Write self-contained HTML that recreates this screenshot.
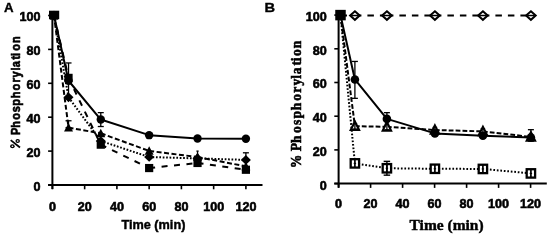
<!DOCTYPE html>
<html><head><meta charset="utf-8"><style>
html,body{margin:0;padding:0;background:#fff;}
body{width:550px;height:245px;overflow:hidden;}
svg{display:block;will-change:transform;}
text{font-weight:bold;stroke:#000;}
line{stroke:#000;}
.s1{font-family:"Liberation Serif",serif;font-size:14.8px;stroke-width:0.55;}
.s2{font-family:"Liberation Sans",sans-serif;font-size:12.2px;stroke-width:0.6;}
.s3{font-family:"Liberation Sans",sans-serif;font-size:12px;stroke-width:0.55;}
.m{text-anchor:middle;}.e{text-anchor:end;}
</style></head><body>
<svg width="550" height="245" viewBox="0 0 550 245">
<rect width="550" height="245" fill="#fff"/>
<line x1="52.4" y1="15" x2="52.4" y2="189.0" stroke-width="2"/><line x1="48.1" y1="185.0" x2="262.5" y2="185.0" stroke-width="2"/><line x1="48.1" y1="185.00" x2="52.4" y2="185.00" stroke-width="1.6"/><text transform="translate(40.6,190.90) scale(1.05,1)" class="s3 e">0</text><line x1="48.1" y1="151.10" x2="52.4" y2="151.10" stroke-width="1.6"/><text transform="translate(40.6,157.00) scale(1.05,1)" class="s3 e">20</text><line x1="48.1" y1="117.20" x2="52.4" y2="117.20" stroke-width="1.6"/><text transform="translate(40.6,123.10) scale(1.05,1)" class="s3 e">40</text><line x1="48.1" y1="83.30" x2="52.4" y2="83.30" stroke-width="1.6"/><text transform="translate(40.6,89.20) scale(1.05,1)" class="s3 e">60</text><line x1="48.1" y1="49.40" x2="52.4" y2="49.40" stroke-width="1.6"/><text transform="translate(40.6,55.30) scale(1.05,1)" class="s3 e">80</text><line x1="48.1" y1="15.50" x2="52.4" y2="15.50" stroke-width="1.6"/><text transform="translate(40.6,21.40) scale(1.05,1)" class="s3 e">100</text><line x1="52.40" y1="185.0" x2="52.40" y2="189.3" stroke-width="1.6"/><text transform="translate(52.40,210.6) scale(1.05,1)" class="s3 m">0</text><line x1="84.65" y1="185.0" x2="84.65" y2="189.3" stroke-width="1.6"/><text transform="translate(84.65,210.6) scale(1.05,1)" class="s3 m">20</text><line x1="116.90" y1="185.0" x2="116.90" y2="189.3" stroke-width="1.6"/><text transform="translate(116.90,210.6) scale(1.05,1)" class="s3 m">40</text><line x1="149.15" y1="185.0" x2="149.15" y2="189.3" stroke-width="1.6"/><text transform="translate(149.15,210.6) scale(1.05,1)" class="s3 m">60</text><line x1="181.40" y1="185.0" x2="181.40" y2="189.3" stroke-width="1.6"/><text transform="translate(181.40,210.6) scale(1.05,1)" class="s3 m">80</text><line x1="213.65" y1="185.0" x2="213.65" y2="189.3" stroke-width="1.6"/><text transform="translate(213.65,210.6) scale(1.05,1)" class="s3 m">100</text><line x1="245.90" y1="185.0" x2="245.90" y2="189.3" stroke-width="1.6"/><text transform="translate(245.90,210.6) scale(1.05,1)" class="s3 m">120</text><text x="3.9" y="12.3" font-family='"Liberation Sans", sans-serif' font-weight="bold" font-size="12.6" textLength="9.6" lengthAdjust="spacingAndGlyphs" stroke="#000" stroke-width="0.35">A</text><text transform="translate(19.8,131.20) rotate(-90) scale(0.9,1)" x="-4.27" y="0" class="s2">P</text><text transform="translate(19.8,124.45) rotate(-90) scale(0.9,1)" x="-3.77" y="0" class="s2">h</text><text transform="translate(19.8,116.50) rotate(-90) scale(0.9,1)" x="-3.73" y="0" class="s2">o</text><text transform="translate(19.8,109.30) rotate(-90) scale(0.9,1)" x="-3.36" y="0" class="s2">s</text><text transform="translate(19.8,102.15) rotate(-90) scale(0.9,1)" x="-3.88" y="0" class="s2">p</text><text transform="translate(19.8,94.80) rotate(-90) scale(0.9,1)" x="-3.77" y="0" class="s2">h</text><text transform="translate(19.8,87.05) rotate(-90) scale(0.9,1)" x="-3.73" y="0" class="s2">o</text><text transform="translate(19.8,80.00) rotate(-90) scale(0.9,1)" x="-2.68" y="0" class="s2">r</text><text transform="translate(19.8,74.50) rotate(-90) scale(0.9,1)" x="-3.41" y="0" class="s2">y</text><text transform="translate(19.8,69.00) rotate(-90) scale(0.9,1)" x="-1.69" y="0" class="s2">l</text><text transform="translate(19.8,64.00) rotate(-90) scale(0.9,1)" x="-3.61" y="0" class="s2">a</text><text transform="translate(19.8,57.80) rotate(-90) scale(0.9,1)" x="-2.03" y="0" class="s2">t</text><text transform="translate(19.8,54.60) rotate(-90) scale(0.9,1)" x="-1.69" y="0" class="s2">i</text><text transform="translate(19.8,47.45) rotate(-90) scale(0.9,1)" x="-3.73" y="0" class="s2">o</text><text transform="translate(19.8,39.75) rotate(-90) scale(0.9,1)" x="-3.75" y="0" class="s2">n</text><ellipse cx="17.7" cy="140.9" rx="2.25" ry="2.0"/><ellipse cx="17.7" cy="140.9" rx="0.9" ry="0.75" fill="#fff"/><ellipse cx="12.4" cy="146.3" rx="2.3" ry="2.05"/><ellipse cx="12.4" cy="146.3" rx="0.9" ry="0.75" fill="#fff"/><line x1="10.7" y1="140.1" x2="20.0" y2="147.5" stroke-width="1.8"/><text x="153.4" y="228.8" text-anchor="middle" font-family='"Liberation Sans", sans-serif' font-weight="bold" font-size="13" textLength="64" lengthAdjust="spacingAndGlyphs" stroke="#000" stroke-width="0.45">Time (min)</text><line x1="54.00" y1="15.50" x2="68.53" y2="77.88" stroke-width="2.0" stroke-dasharray="6,6.5" stroke-dashoffset="0"/><line x1="68.53" y1="77.88" x2="100.78" y2="144.66" stroke-width="2.0" stroke-dasharray="6,6.5" stroke-dashoffset="0"/><line x1="100.78" y1="144.66" x2="149.15" y2="168.05" stroke-width="2.0" stroke-dasharray="6,6.5" stroke-dashoffset="0"/><line x1="149.15" y1="168.05" x2="197.53" y2="162.97" stroke-width="2.0" stroke-dasharray="6,6.5" stroke-dashoffset="0"/><line x1="197.53" y1="162.97" x2="245.90" y2="169.75" stroke-width="2.0" stroke-dasharray="6,6.5" stroke-dashoffset="0"/><line x1="54.00" y1="15.50" x2="68.53" y2="127.71" stroke-width="2.0" stroke-dasharray="5,2.5" stroke-dashoffset="0"/><line x1="68.53" y1="127.71" x2="100.78" y2="133.30" stroke-width="2.0" stroke-dasharray="5,2.5" stroke-dashoffset="0"/><line x1="100.78" y1="133.30" x2="149.15" y2="150.93" stroke-width="2.0" stroke-dasharray="5,2.5" stroke-dashoffset="0"/><line x1="149.15" y1="150.93" x2="197.53" y2="157.03" stroke-width="2.0" stroke-dasharray="5,2.5" stroke-dashoffset="0"/><line x1="197.53" y1="157.03" x2="245.90" y2="166.35" stroke-width="2.0" stroke-dasharray="5,2.5" stroke-dashoffset="0"/><line x1="54.00" y1="15.50" x2="68.53" y2="97.37" stroke-width="2.0" stroke-dasharray="1.7,1.7" stroke-dashoffset="0"/><line x1="68.53" y1="97.37" x2="100.78" y2="140.93" stroke-width="2.0" stroke-dasharray="1.7,1.7" stroke-dashoffset="0"/><line x1="100.78" y1="140.93" x2="149.15" y2="157.03" stroke-width="2.0" stroke-dasharray="1.7,1.7" stroke-dashoffset="0"/><line x1="149.15" y1="157.03" x2="197.53" y2="158.39" stroke-width="2.0" stroke-dasharray="1.7,1.7" stroke-dashoffset="0"/><line x1="197.53" y1="158.39" x2="245.90" y2="159.91" stroke-width="2.0" stroke-dasharray="1.7,1.7" stroke-dashoffset="0"/><polyline points="54.00,15.50 68.53,80.76 100.78,119.57 149.15,135.17 197.53,138.56 245.90,138.73" fill="none" stroke="#000" stroke-width="2.0" stroke-linejoin="round"/><line x1="68.53" y1="62.96" x2="68.53" y2="96.86" stroke-width="1.3"/><line x1="65.53" y1="62.96" x2="71.53" y2="62.96" stroke-width="1.3"/><line x1="65.53" y1="96.86" x2="71.53" y2="96.86" stroke-width="1.3"/><line x1="100.78" y1="112.62" x2="100.78" y2="126.52" stroke-width="1.3"/><line x1="97.78" y1="112.62" x2="103.78" y2="112.62" stroke-width="1.3"/><line x1="97.78" y1="126.52" x2="103.78" y2="126.52" stroke-width="1.3"/><line x1="68.53" y1="120.76" x2="68.53" y2="127.71" stroke-width="1.3"/><line x1="65.53" y1="120.76" x2="71.53" y2="120.76" stroke-width="1.3"/><line x1="65.53" y1="127.71" x2="71.53" y2="127.71" stroke-width="1.3"/><line x1="197.53" y1="151.10" x2="197.53" y2="157.88" stroke-width="1.3"/><line x1="196.43" y1="151.10" x2="198.62" y2="151.10" stroke-width="1.3"/><line x1="196.43" y1="157.88" x2="198.62" y2="157.88" stroke-width="1.3"/><line x1="245.90" y1="152.80" x2="245.90" y2="169.75" stroke-width="1.3"/><line x1="242.90" y1="152.80" x2="248.90" y2="152.80" stroke-width="1.3"/><line x1="242.90" y1="169.75" x2="248.90" y2="169.75" stroke-width="1.3"/><rect x="49.90" y="11.40" width="8.2" height="8.2"/><rect x="64.43" y="73.78" width="8.2" height="8.2"/><rect x="96.68" y="140.56" width="8.2" height="8.2"/><rect x="145.05" y="163.95" width="8.2" height="8.2"/><rect x="193.43" y="158.87" width="8.2" height="8.2"/><rect x="241.80" y="165.65" width="8.2" height="8.2"/><polygon points="54.00,10.82 58.50,19.32 49.50,19.32" stroke-linejoin="miter"/><polygon points="68.53,123.03 73.03,131.53 64.03,131.53" stroke-linejoin="miter"/><polygon points="100.78,128.63 105.28,137.13 96.28,137.13" stroke-linejoin="miter"/><polygon points="149.15,146.26 153.65,154.76 144.65,154.76" stroke-linejoin="miter"/><polygon points="197.53,152.36 202.03,160.86 193.03,160.86" stroke-linejoin="miter"/><polygon points="245.90,161.68 250.40,170.18 241.40,170.18" stroke-linejoin="miter"/><polygon points="54.00,10.70 59.00,15.50 54.00,20.30 49.00,15.50" stroke-linejoin="miter"/><polygon points="68.53,92.57 73.53,97.37 68.53,102.17 63.53,97.37" stroke-linejoin="miter"/><polygon points="100.78,136.13 105.78,140.93 100.78,145.73 95.78,140.93" stroke-linejoin="miter"/><polygon points="149.15,152.23 154.15,157.03 149.15,161.83 144.15,157.03" stroke-linejoin="miter"/><polygon points="197.53,153.59 202.53,158.39 197.53,163.19 192.53,158.39" stroke-linejoin="miter"/><polygon points="245.90,155.11 250.90,159.91 245.90,164.71 240.90,159.91" stroke-linejoin="miter"/><circle cx="54.00" cy="15.50" r="4.2"/><circle cx="68.53" cy="80.76" r="4.2"/><circle cx="100.78" cy="119.57" r="4.2"/><circle cx="149.15" cy="135.17" r="4.2"/><circle cx="197.53" cy="138.56" r="4.2"/><circle cx="245.90" cy="138.73" r="4.2"/><rect x="49.0" y="10.7" width="10.2" height="8.4"/><line x1="338.6" y1="15" x2="338.6" y2="187.6" stroke-width="2"/><line x1="334.3" y1="183.6" x2="546.8" y2="183.6" stroke-width="2"/><line x1="334.3" y1="183.60" x2="338.6" y2="183.60" stroke-width="1.6"/><text transform="translate(326.8,189.50) scale(1.05,1)" class="s3 e">0</text><line x1="334.3" y1="149.90" x2="338.6" y2="149.90" stroke-width="1.6"/><text transform="translate(326.8,155.80) scale(1.05,1)" class="s3 e">20</text><line x1="334.3" y1="116.20" x2="338.6" y2="116.20" stroke-width="1.6"/><text transform="translate(326.8,122.10) scale(1.05,1)" class="s3 e">40</text><line x1="334.3" y1="82.50" x2="338.6" y2="82.50" stroke-width="1.6"/><text transform="translate(326.8,88.40) scale(1.05,1)" class="s3 e">60</text><line x1="334.3" y1="48.80" x2="338.6" y2="48.80" stroke-width="1.6"/><text transform="translate(326.8,54.70) scale(1.05,1)" class="s3 e">80</text><line x1="334.3" y1="15.10" x2="338.6" y2="15.10" stroke-width="1.6"/><text transform="translate(326.8,21.00) scale(1.05,1)" class="s3 e">100</text><line x1="338.60" y1="183.6" x2="338.60" y2="187.9" stroke-width="1.6"/><text transform="translate(338.60,208.2) scale(1.05,1)" class="s3 m">0</text><line x1="370.60" y1="183.6" x2="370.60" y2="187.9" stroke-width="1.6"/><text transform="translate(370.60,208.2) scale(1.05,1)" class="s3 m">20</text><line x1="402.60" y1="183.6" x2="402.60" y2="187.9" stroke-width="1.6"/><text transform="translate(402.60,208.2) scale(1.05,1)" class="s3 m">40</text><line x1="434.60" y1="183.6" x2="434.60" y2="187.9" stroke-width="1.6"/><text transform="translate(434.60,208.2) scale(1.05,1)" class="s3 m">60</text><line x1="466.60" y1="183.6" x2="466.60" y2="187.9" stroke-width="1.6"/><text transform="translate(466.60,208.2) scale(1.05,1)" class="s3 m">80</text><line x1="498.60" y1="183.6" x2="498.60" y2="187.9" stroke-width="1.6"/><text transform="translate(498.60,208.2) scale(1.05,1)" class="s3 m">100</text><line x1="530.60" y1="183.6" x2="530.60" y2="187.9" stroke-width="1.6"/><text transform="translate(530.60,208.2) scale(1.05,1)" class="s3 m">120</text><text x="264.6" y="12.1" font-family='"Liberation Sans", sans-serif' font-weight="bold" font-size="12.6" textLength="10.6" lengthAdjust="spacingAndGlyphs" stroke="#000" stroke-width="0.35">B</text><text transform="translate(301.2,161.45) rotate(-90) scale(0.92,1)" x="-7.47" y="0" class="s1">%</text><text transform="translate(301.2,147.20) rotate(-90) scale(0.92,1)" x="-4.44" y="0" class="s1">P</text><text transform="translate(301.2,139.15) rotate(-90) scale(0.92,1)" x="-4.19" y="0" class="s1">h</text><text transform="translate(301.2,129.70) rotate(-90) scale(0.92,1)" x="-3.70" y="0" class="s1">o</text><text transform="translate(301.2,122.35) rotate(-90) scale(0.92,1)" x="-2.92" y="0" class="s1">s</text><text transform="translate(301.2,114.80) rotate(-90) scale(0.92,1)" x="-3.91" y="0" class="s1">p</text><text transform="translate(301.2,106.40) rotate(-90) scale(0.92,1)" x="-4.19" y="0" class="s1">h</text><text transform="translate(301.2,97.40) rotate(-90) scale(0.92,1)" x="-3.70" y="0" class="s1">o</text><text transform="translate(301.2,89.65) rotate(-90) scale(0.92,1)" x="-3.32" y="0" class="s1">r</text><text transform="translate(301.2,82.15) rotate(-90) scale(0.92,1)" x="-3.70" y="0" class="s1">y</text><text transform="translate(301.2,76.75) rotate(-90) scale(0.92,1)" x="-2.07" y="0" class="s1">l</text><text transform="translate(301.2,70.65) rotate(-90) scale(0.92,1)" x="-3.83" y="0" class="s1">a</text><text transform="translate(301.2,63.25) rotate(-90) scale(0.92,1)" x="-2.55" y="0" class="s1">t</text><text transform="translate(301.2,59.20) rotate(-90) scale(0.92,1)" x="-2.11" y="0" class="s1">i</text><text transform="translate(301.2,52.50) rotate(-90) scale(0.92,1)" x="-3.70" y="0" class="s1">o</text><text transform="translate(301.2,44.30) rotate(-90) scale(0.92,1)" x="-4.20" y="0" class="s1">n</text><text x="446.6" y="230" text-anchor="middle" font-family='"Liberation Serif", serif' font-weight="bold" font-size="15.5" textLength="74" lengthAdjust="spacingAndGlyphs" stroke="#000" stroke-width="0.45">Time (min)</text><line x1="340.50" y1="15.52" x2="354.90" y2="15.52" stroke-width="1.8" stroke-dasharray="6.5,6" stroke-dashoffset="0"/><line x1="354.90" y1="15.52" x2="386.90" y2="15.52" stroke-width="1.8" stroke-dasharray="6.5,6" stroke-dashoffset="0"/><line x1="386.90" y1="15.52" x2="434.90" y2="15.52" stroke-width="1.8" stroke-dasharray="6.5,6" stroke-dashoffset="0"/><line x1="434.90" y1="15.52" x2="482.90" y2="15.52" stroke-width="1.8" stroke-dasharray="6.5,6" stroke-dashoffset="0"/><line x1="482.90" y1="15.52" x2="530.90" y2="15.52" stroke-width="1.8" stroke-dasharray="6.5,6" stroke-dashoffset="0"/><line x1="340.50" y1="15.10" x2="354.90" y2="126.14" stroke-width="2.0" stroke-dasharray="4.8,2.1" stroke-dashoffset="0"/><line x1="354.90" y1="126.14" x2="386.90" y2="126.82" stroke-width="2.0" stroke-dasharray="4.8,2.1" stroke-dashoffset="0"/><line x1="386.90" y1="126.82" x2="434.90" y2="130.02" stroke-width="2.0" stroke-dasharray="4.8,2.1" stroke-dashoffset="0"/><line x1="434.90" y1="130.02" x2="482.90" y2="131.37" stroke-width="2.0" stroke-dasharray="4.8,2.1" stroke-dashoffset="0"/><line x1="482.90" y1="131.37" x2="530.90" y2="136.93" stroke-width="2.0" stroke-dasharray="4.8,2.1" stroke-dashoffset="0"/><line x1="340.50" y1="15.10" x2="354.90" y2="163.38" stroke-width="2.0" stroke-dasharray="1.7,1.8" stroke-dashoffset="0"/><line x1="354.90" y1="163.38" x2="386.90" y2="168.27" stroke-width="2.0" stroke-dasharray="1.7,1.8" stroke-dashoffset="0"/><line x1="386.90" y1="168.27" x2="434.90" y2="168.77" stroke-width="2.0" stroke-dasharray="1.7,1.8" stroke-dashoffset="0"/><line x1="434.90" y1="168.77" x2="482.90" y2="168.94" stroke-width="2.0" stroke-dasharray="1.7,1.8" stroke-dashoffset="0"/><line x1="482.90" y1="168.94" x2="530.90" y2="173.41" stroke-width="2.0" stroke-dasharray="1.7,1.8" stroke-dashoffset="0"/><polyline points="340.50,15.10 354.90,79.47 386.90,118.90 434.90,133.39 482.90,135.75 530.90,137.43" fill="none" stroke="#000" stroke-width="2.0" stroke-linejoin="round"/><line x1="354.90" y1="61.44" x2="354.90" y2="98.34" stroke-width="1.3"/><line x1="351.90" y1="61.44" x2="357.90" y2="61.44" stroke-width="1.3"/><line x1="351.90" y1="98.34" x2="357.90" y2="98.34" stroke-width="1.3"/><line x1="386.90" y1="112.66" x2="386.90" y2="126.31" stroke-width="1.3"/><line x1="383.90" y1="112.66" x2="389.90" y2="112.66" stroke-width="1.3"/><line x1="383.90" y1="126.31" x2="389.90" y2="126.31" stroke-width="1.3"/><line x1="530.90" y1="129.68" x2="530.90" y2="141.14" stroke-width="1.3"/><line x1="527.90" y1="129.68" x2="533.90" y2="129.68" stroke-width="1.3"/><line x1="527.90" y1="141.14" x2="533.90" y2="141.14" stroke-width="1.3"/><polygon points="354.90,11.22 359.70,15.52 354.90,19.82 350.10,15.52" fill="#fff" stroke="#000" stroke-width="2.0" stroke-linejoin="miter"/><line x1="351.30" y1="15.52" x2="358.50" y2="15.52" stroke-width="1.5"/><polygon points="386.90,11.22 391.70,15.52 386.90,19.82 382.10,15.52" fill="#fff" stroke="#000" stroke-width="2.0" stroke-linejoin="miter"/><line x1="383.30" y1="15.52" x2="390.50" y2="15.52" stroke-width="1.5"/><polygon points="434.90,11.22 439.70,15.52 434.90,19.82 430.10,15.52" fill="#fff" stroke="#000" stroke-width="2.0" stroke-linejoin="miter"/><line x1="431.30" y1="15.52" x2="438.50" y2="15.52" stroke-width="1.5"/><polygon points="482.90,11.22 487.70,15.52 482.90,19.82 478.10,15.52" fill="#fff" stroke="#000" stroke-width="2.0" stroke-linejoin="miter"/><line x1="479.30" y1="15.52" x2="486.50" y2="15.52" stroke-width="1.5"/><polygon points="530.90,11.22 535.70,15.52 530.90,19.82 526.10,15.52" fill="#fff" stroke="#000" stroke-width="2.0" stroke-linejoin="miter"/><line x1="527.30" y1="15.52" x2="534.50" y2="15.52" stroke-width="1.5"/><polygon points="354.90,121.52 359.10,129.92 350.70,129.92" fill="#fff" stroke="#000" stroke-width="2.1" stroke-linejoin="miter"/><line x1="354.90" y1="123.54" x2="354.90" y2="129.14" stroke-width="1.3"/><line x1="352.65" y1="123.54" x2="357.15" y2="123.54" stroke-width="1.3"/><line x1="352.65" y1="129.14" x2="357.15" y2="129.14" stroke-width="1.3"/><polygon points="386.90,122.20 391.10,130.60 382.70,130.60" fill="#fff" stroke="#000" stroke-width="2.1" stroke-linejoin="miter"/><line x1="386.90" y1="124.22" x2="386.90" y2="129.82" stroke-width="1.3"/><line x1="384.65" y1="124.22" x2="389.15" y2="124.22" stroke-width="1.3"/><line x1="384.65" y1="129.82" x2="389.15" y2="129.82" stroke-width="1.3"/><polygon points="434.90,125.40 439.10,133.80 430.70,133.80" fill="#fff" stroke="#000" stroke-width="2.1" stroke-linejoin="miter"/><line x1="434.90" y1="127.42" x2="434.90" y2="133.02" stroke-width="1.3"/><line x1="432.65" y1="127.42" x2="437.15" y2="127.42" stroke-width="1.3"/><line x1="432.65" y1="133.02" x2="437.15" y2="133.02" stroke-width="1.3"/><polygon points="482.90,126.75 487.10,135.15 478.70,135.15" fill="#fff" stroke="#000" stroke-width="2.1" stroke-linejoin="miter"/><line x1="482.90" y1="128.77" x2="482.90" y2="134.37" stroke-width="1.3"/><line x1="480.65" y1="128.77" x2="485.15" y2="128.77" stroke-width="1.3"/><line x1="480.65" y1="134.37" x2="485.15" y2="134.37" stroke-width="1.3"/><polygon points="530.90,132.31 535.10,140.71 526.70,140.71" fill="#fff" stroke="#000" stroke-width="2.1" stroke-linejoin="miter"/><line x1="530.90" y1="134.33" x2="530.90" y2="139.93" stroke-width="1.3"/><line x1="528.65" y1="134.33" x2="533.15" y2="134.33" stroke-width="1.3"/><line x1="528.65" y1="139.93" x2="533.15" y2="139.93" stroke-width="1.3"/><circle cx="354.90" cy="79.47" r="4.3"/><circle cx="386.90" cy="118.90" r="4.3"/><circle cx="434.90" cy="133.39" r="4.3"/><circle cx="482.90" cy="135.75" r="4.3"/><circle cx="530.90" cy="137.43" r="4.3"/><rect x="350.70" y="159.18" width="8.4" height="8.4" fill="#fff" stroke="#000" stroke-width="2.3"/><line x1="354.90" y1="159.08" x2="354.90" y2="167.68" stroke-width="1.7"/><line x1="353.70" y1="163.38" x2="356.10" y2="163.38" stroke-width="1.2"/><rect x="382.70" y="164.07" width="8.4" height="8.4" fill="#fff" stroke="#000" stroke-width="2.3"/><line x1="386.90" y1="163.97" x2="386.90" y2="172.57" stroke-width="1.7"/><line x1="385.70" y1="168.27" x2="388.10" y2="168.27" stroke-width="1.2"/><rect x="430.70" y="164.57" width="8.4" height="8.4" fill="#fff" stroke="#000" stroke-width="2.3"/><line x1="434.90" y1="164.47" x2="434.90" y2="173.07" stroke-width="1.7"/><line x1="433.70" y1="168.77" x2="436.10" y2="168.77" stroke-width="1.2"/><rect x="478.70" y="164.74" width="8.4" height="8.4" fill="#fff" stroke="#000" stroke-width="2.3"/><line x1="482.90" y1="164.64" x2="482.90" y2="173.24" stroke-width="1.7"/><line x1="481.70" y1="168.94" x2="484.10" y2="168.94" stroke-width="1.2"/><rect x="526.70" y="169.21" width="8.4" height="8.4" fill="#fff" stroke="#000" stroke-width="2.3"/><line x1="530.90" y1="169.11" x2="530.90" y2="177.71" stroke-width="1.7"/><line x1="529.70" y1="173.41" x2="532.10" y2="173.41" stroke-width="1.2"/><line x1="386.90" y1="161.36" x2="386.90" y2="175.17" stroke-width="1.4"/><line x1="383.65" y1="161.36" x2="390.15" y2="161.36" stroke-width="1.4"/><line x1="383.65" y1="175.17" x2="390.15" y2="175.17" stroke-width="1.4"/><rect x="335.25" y="9.85" width="10.5" height="10.5"/>
</svg>
</body></html>
